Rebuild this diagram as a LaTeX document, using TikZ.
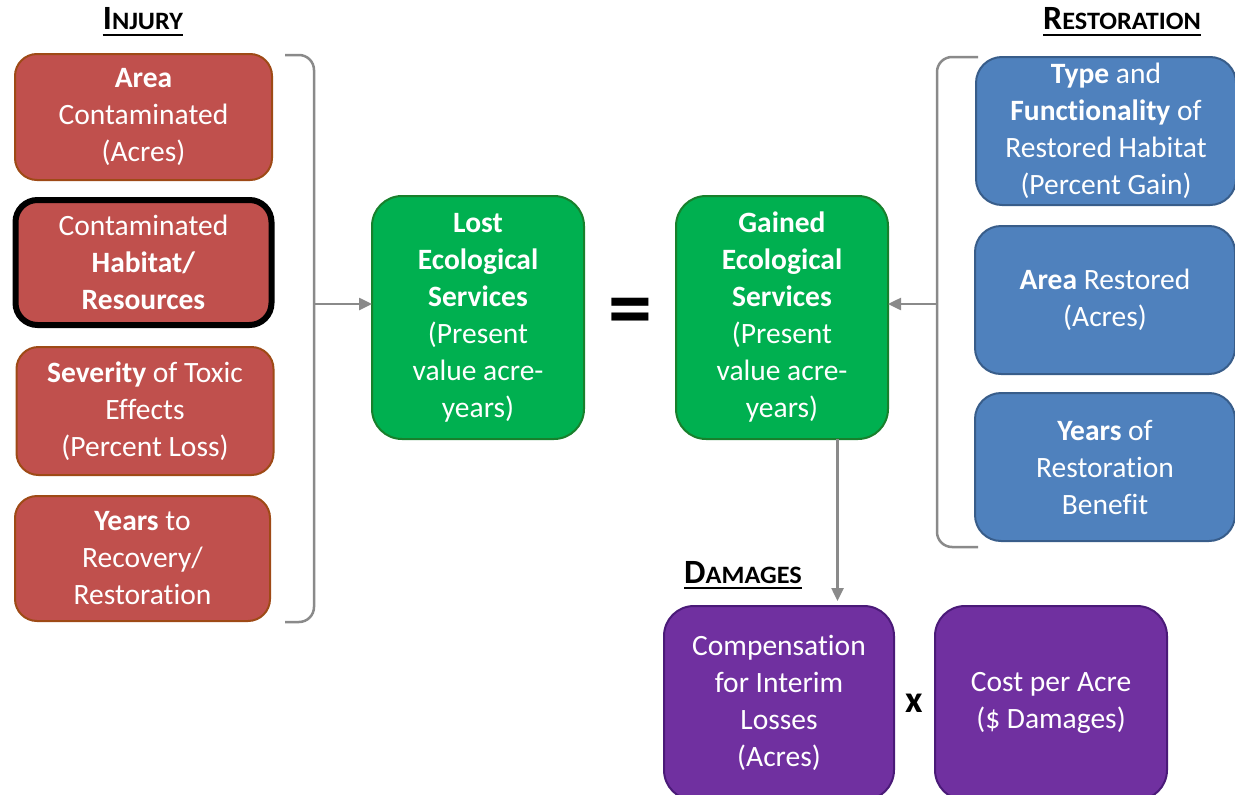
\documentclass[tikz,border=0pt]{standalone}
\usepackage{fontspec}
\setmainfont{Carlito}[Ligatures={CommonOff,ContextualOff}]
\usetikzlibrary{arrows.meta,
                positioning,
                calc}
\definecolor{injfill}{HTML}{C0504D}
\definecolor{injedge}{HTML}{9E4A16}
\definecolor{ecofill}{HTML}{00B050}
\definecolor{ecoedge}{HTML}{18802C}
\definecolor{resfill}{HTML}{4F81BD}
\definecolor{resedge}{HTML}{385D8A}
\definecolor{dmgfill}{HTML}{7030A0}
\definecolor{dmgedge}{HTML}{4A1A78}
\definecolor{linegray}{HTML}{8A8A8A}
\tikzset{box/.style=
   {rectangle,
    draw,
    line width=2pt,
    text=white,
    align=center,
    inner sep=0pt,
    outer sep=0pt,
    font=\fontsize{29.5}{37}\selectfont}}
\tikzset{injbox/.style={box, fill=injfill, draw=injedge, rounded corners=22pt, minimum width=257pt}}
\tikzset{ecobox/.style={box, fill=ecofill, draw=ecoedge, rounded corners=30pt, minimum width=212pt, minimum height=243pt}}
\tikzset{resbox/.style={box, fill=resfill, draw=resedge, rounded corners=26pt, minimum width=260pt, minimum height=148pt}}
\tikzset{dmgbox/.style={box, fill=dmgfill, draw=dmgedge, rounded corners=30pt, minimum width=230pt, minimum height=194pt}}
\tikzset{bracket/.style={draw=linegray, line width=2.5pt, rounded corners=15pt}}
\tikzset{arrow/.style = {draw=linegray, line width=2.5pt, -{Triangle[length=13pt,width=12pt]}}}
\tikzset{heading/.style={anchor=base, inner sep=0pt, font=\bfseries}}
\tikzset{underbar/.style={line width=2pt}}
\newcommand{\fakesc}[2]{{\fontsize{34}{34}\selectfont #1}{\fontsize{25}{25}\selectfont\addfontfeature{FakeStretch=1.05}#2}}

\begin{document}
\begin{tikzpicture}[x=1pt, y=-1pt]

    \useasboundingbox (0,0) rectangle (1235,795);

    % Headings
    \node [heading] (injhead) at (143,30) {\fakesc{I}{NJURY}};
    \node [heading] (reshead) at (1122,30) {\fakesc{R}{ESTORATION}};
    \node [heading] (dmghead) at (743,583) {\fakesc{D}{AMAGES}};
    \foreach \h in {injhead, reshead, dmghead}
        \draw [underbar] ([yshift=-5pt]\h.base west) -- ([yshift=-5pt]\h.base east);

    % Injury column
    \node [injbox, minimum height=126pt] (area) at (143.5,117) {\textbf{Area}\\Contaminated\\(Acres)};
    \node [injbox, minimum height=125pt, minimum width=256pt, draw=black, line width=6pt, below=20pt of area] (habitat) {Contaminated\\\textbf{Habitat/}\\\textbf{Resources}};
    \node [injbox, minimum height=128pt, below=22pt of habitat, xshift=1.5pt] (severity) {\textbf{Severity} of Toxic\\Effects\\(Percent Loss)};
    \node [injbox, minimum height=125pt, minimum width=255pt, below=21pt of severity, xshift=-2.5pt] (years) {\textbf{Years} to\\Recovery/\\Restoration};

    % Ecological services
    \node [ecobox] (lost) at (478,317.5) {\textbf{Lost}\\\textbf{Ecological}\\\textbf{Services}\\(Present\\value acre-\\years)};
    \node [ecobox, right=92pt of lost] (gained) {\textbf{Gained}\\\textbf{Ecological}\\\textbf{Services}\\(Present\\value acre-\\years)};
    \node [inner sep=0pt, font=\fontsize{88}{88}\selectfont\bfseries] (equals) at ($(lost.east)!0.5!(gained.west)$) {=};

    % Restoration column
    \node [resbox] (type) at (1106,131) {\textbf{Type} and\\\textbf{Functionality} of\\Restored Habitat\\(Percent Gain)};
    \node [resbox, below=21pt of type, xshift=-1pt] (restored) {\textbf{Area} Restored\\(Acres)};
    \node [resbox, below=19pt of restored] (benefit) {\textbf{Years} of\\Restoration\\Benefit};

    % Damages
    \node [dmgbox] (comp) at (779,703) {Compensation\\for Interim\\Losses\\(Acres)};
    \node [dmgbox, minimum width=232pt, right=41pt of comp] (cost) {Cost per Acre\\(\$ Damages)};
    \node [inner sep=0pt, font=\fontsize{38}{38}\selectfont\bfseries] (times) at ($(comp.east)!0.5!(cost.west)$) {x};

    % Brackets
    \coordinate (injbrace) at (314,304);
    \coordinate (resbrace) at (937,304);
    \draw [bracket] (285,55) -- (314,55) -- (314,622) -- (285,622);
    \draw [bracket] (978,57) -- (937,57) -- (937,547) -- (978,547);
    \draw [draw=linegray, line width=2.5pt] (resbrace) -- ++(-7,0);

    % Draw edges
    \path [arrow] (injbrace) -- (injbrace -| lost.west);
    \path [arrow] (resbrace) -- (resbrace -| gained.east);
    \path [arrow] ([xshift=55.5pt]gained.south) -- ([xshift=55.5pt, yshift=5pt]gained.south |- comp.north);

\end{tikzpicture}
\end{document}
